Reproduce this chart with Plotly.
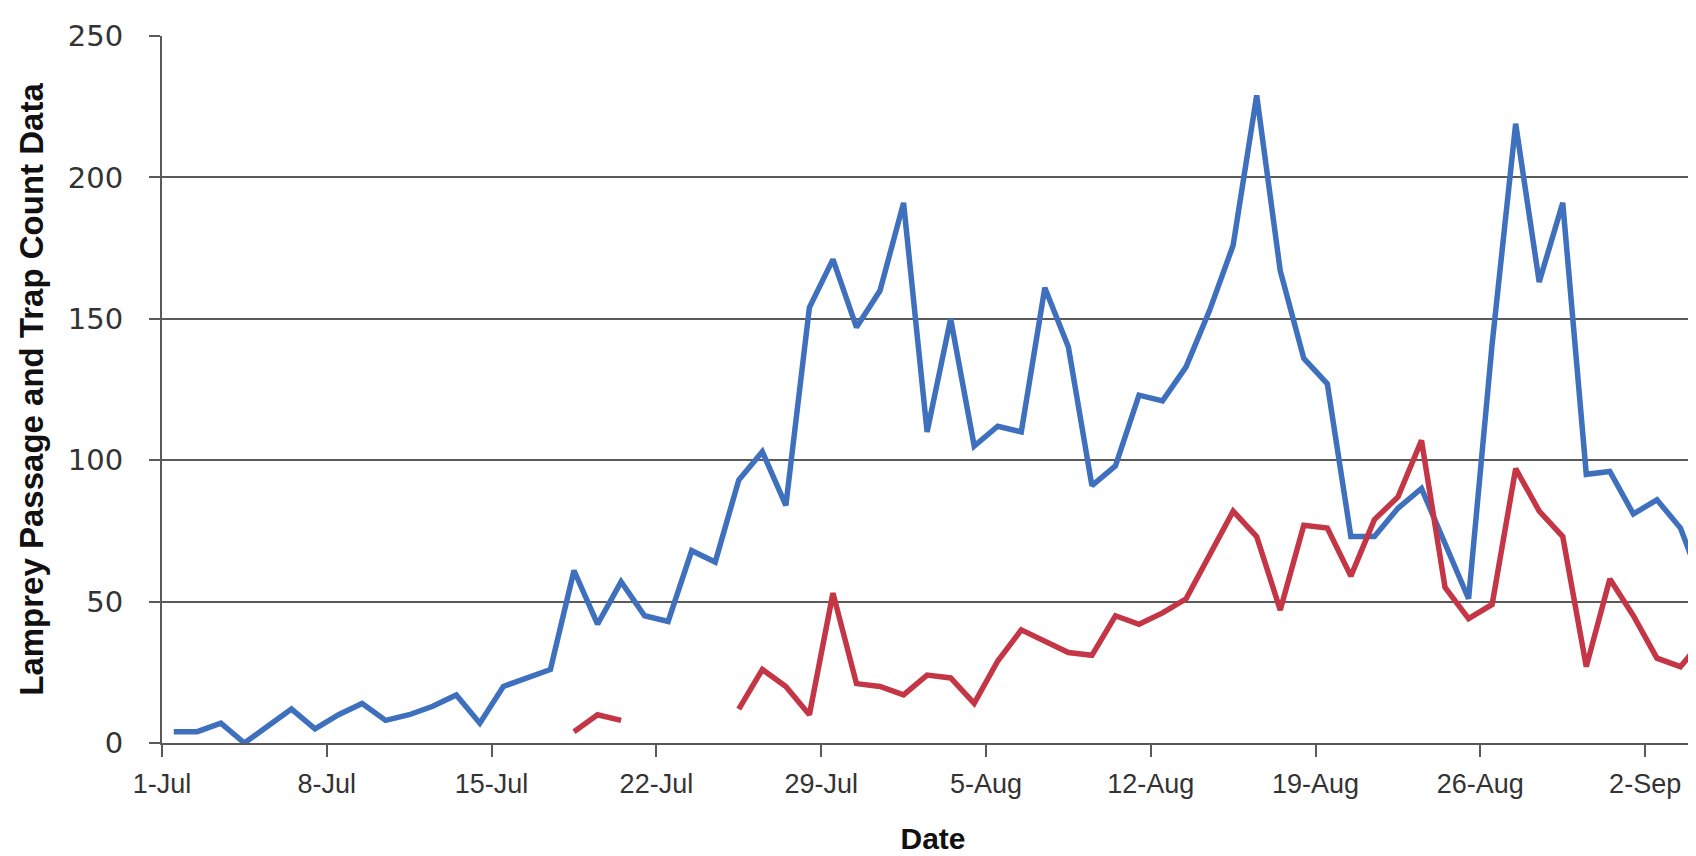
import pandas as pd
import plotly.graph_objects as go

start_date = "2013-07-01"
n_days = 66

blue_values = [4, 4, 7, 0, 6, 12, 5, 10, 14, 8, 10, 13, 17, 7, 20, 23, 26, 61, 42, 57,
               45, 43, 68, 64, 93, 103, 84, 154, 171, 147, 160, 191, 110, 150, 105, 112, 110, 161, 140, 91,
               98, 123, 121, 133, 153, 176, 229, 167, 136, 127, 73, 73, 83, 90, 71, 51, 141, 219, 163, 191,
               95, 96, 81, 86, 76, 54]

red_values = [None] * 17 + [4, 10, 8, None, None, None, None, 12, 26, 20, 10, 53, 21, 20, 17, 24, 23, 14,
              29, 40, 36, 32, 31, 45, 42, 46, 51, 67, 82, 73, 47, 77, 76, 59, 79, 87, 107, 55, 44, 49,
              97, 82, 73, 27, 58, 45, 30, 27, 37]

tick_dates = ["2013-07-01", "2013-07-08", "2013-07-15", "2013-07-22", "2013-07-29",
              "2013-08-05", "2013-08-12", "2013-08-19", "2013-08-26", "2013-09-02"]
tick_labels = ["1-Jul", "8-Jul", "15-Jul", "22-Jul", "29-Jul", "5-Aug", "12-Aug", "19-Aug", "26-Aug", "2-Sep"]

y_ticks = [0, 50, 100, 150, 200, 250]

# each daily value is centred in its day band (Excel date axis)
dates = pd.date_range(pd.Timestamp(start_date) + pd.Timedelta(hours=12), periods=n_days, freq="D")
x_end = pd.Timestamp(start_date) + pd.Timedelta(days=65.5)

grid_col = "#5A5A5A"

fig = go.Figure()
fig.add_trace(go.Scatter(x=dates, y=blue_values, mode="lines",
                         line=dict(color="#3F70BE", width=5.5), showlegend=False))
fig.add_trace(go.Scatter(x=dates, y=red_values, mode="lines", connectgaps=False,
                         line=dict(color="#C43645", width=5.5), showlegend=False))

fig.update_layout(
    width=1696, height=856,
    margin=dict(l=154, r=0, t=28, b=121),
    plot_bgcolor="white", paper_bgcolor="white",
)

fig.update_xaxes(
    range=[pd.Timestamp(start_date), x_end],
    tickvals=[pd.Timestamp(d) for d in tick_dates], ticktext=tick_labels,
    showgrid=False, showline=True, linecolor=grid_col, linewidth=2,
    ticks="outside", ticklen=12, tickwidth=2, tickcolor=grid_col,
    tickfont=dict(family="Liberation Sans", size=27, color="#333333"),
    ticklabelstandoff=4,
    title=dict(text="Date", font=dict(family="Liberation Sans", size=30, color="#111111", weight="bold"),
               standoff=30),
    zeroline=False,
)

fig.update_yaxes(
    range=[0, 250], tickvals=y_ticks,
    showgrid=True, gridcolor=grid_col, gridwidth=2,
    showline=True, linecolor=grid_col, linewidth=2,
    ticks="outside", ticklen=11, tickwidth=2, tickcolor=grid_col,
    tickfont=dict(family="DejaVu Sans", size=29, color="#333333"),
    ticklabelstandoff=20,
    title=dict(text="Lamprey Passage and Trap Count Data",
               font=dict(family="Liberation Sans", size=33, color="#111111", weight="bold"),
               standoff=14),
    zeroline=False,
)

fig.write_html("out.html")
